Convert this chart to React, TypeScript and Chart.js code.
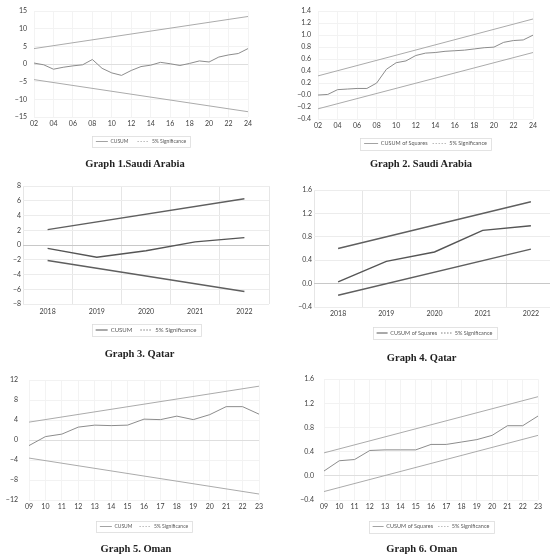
import { useEffect, useRef } from "react";
import { Chart, registerables } from "chart.js";

Chart.register(...registerables);

// ---- data ----
const saudiYears = ["02", "03", "04", "05", "06", "07", "08", "09", "10", "11", "12", "13", "14", "15", "16", "17", "18", "19", "20", "21", "22", "23", "24"];
const saudiCusum = [0.3, -0.2, -1.45, -0.9, -0.5, -0.2, 1.3, -1.2, -2.5, -3.2, -1.8, -0.7, -0.3, 0.5, 0.1, -0.4, 0.2, 0.9, 0.6, 2.0, 2.6, 3.0, 4.4];
const saudiCusumUpper = [4.4, 13.5];
const saudiCusumLower = [-4.4, -13.5];
const saudiSquares = [0.0, 0.01, 0.09, 0.1, 0.11, 0.11, 0.2, 0.43, 0.54, 0.57, 0.66, 0.7, 0.71, 0.73, 0.74, 0.75, 0.77, 0.79, 0.8, 0.88, 0.91, 0.92, 1.0];
const saudiSquaresUpper = [0.32, 1.27];
const saudiSquaresLower = [-0.23, 0.71];

const qatarYears = ["2018", "2019", "2020", "2021", "2022"];
const qatarCusum = [-0.44, -1.64, -0.76, 0.44, 1.02];
const qatarCusumUpper = [2.1, 6.3];
const qatarCusumLower = [-2.1, -6.3];
const qatarSquares = [0.03, 0.38, 0.54, 0.91, 0.99];
const qatarSquaresUpper = [0.6, 1.4];
const qatarSquaresLower = [-0.2, 0.59];

const omanYears = ["09", "10", "11", "12", "13", "14", "15", "16", "17", "18", "19", "20", "21", "22", "23"];
const omanCusum = [-1.1, 0.7, 1.2, 2.6, 3.0, 2.9, 3.0, 4.2, 4.1, 4.8, 4.1, 5.1, 6.7, 6.7, 5.2];
const omanCusumUpper = [3.6, 10.8];
const omanCusumLower = [-3.6, -10.8];
const omanSquares = [0.08, 0.25, 0.27, 0.42, 0.43, 0.43, 0.43, 0.52, 0.52, 0.56, 0.6, 0.67, 0.83, 0.83, 0.99];
const omanSquaresUpper = [0.38, 1.31];
const omanSquaresLower = [-0.26, 0.67];

type Spec = {
  left: number; top: number; width: number; height: number; clip?: number;
  labels: string[]; series: number[]; upper: number[]; lower: number[]; name: string;
  yMin: number; yMax: number; yStep: number; decimals: number;
  everyOther: boolean; offset: boolean; dark: boolean;
  chartLeft: number; chartRight: number; chartTop: number; chartBottom: number;
  yLabelRight: number; xLabelY: number; legendY: number;
  legendFont: number; legendGap: number; sampleW: number;
  caption: string; captionX: number; captionY: number;
};

const legendFrame = {
  id: "legendFrame",
  afterDraw(chart: any) {
    const lg = chart.legend;
    if (!lg || !lg.legendHitBoxes || !lg.legendHitBoxes.length) return;
    const hb = lg.legendHitBoxes;
    const l = Math.min(...hb.map((h: any) => h.left));
    const r = Math.max(...hb.map((h: any) => h.left + h.width));
    const t = Math.min(...hb.map((h: any) => h.top));
    const b = Math.max(...hb.map((h: any) => h.top + h.height));
    const ctx = chart.ctx;
    ctx.save();
    ctx.strokeStyle = "#dcdcdc";
    ctx.lineWidth = 0.8;
    ctx.strokeRect(Math.round(l - 4) + 0.5, Math.round(t - 3) + 0.5, Math.round(r - l + 8), Math.round(b - t + 6));
    ctx.restore();
  },
};

const fmt = (v: number, d: number) => (v < 0 ? "\u2212" + Math.abs(v).toFixed(d) : v.toFixed(d));

const Panel: React.FC<{ s: Spec }> = ({ s }) => {
  const ref = useRef<HTMLCanvasElement | null>(null);

  useEffect(() => {
    if (!ref.current) return;
    const f = s.legendFont;
    const p = s.legendGap;
    const legendTop = s.legendY - p - f / 2;
    const xH = legendTop - s.chartBottom;
    const bottomPad = s.height - (legendTop + f + p + 10);
    const last = s.labels.length - 1;
    const lineCol = s.dark ? "#555555" : "#8c8c8c";
    const bandCol = s.dark ? "#5f5f5f" : "#ababab";
    const lw = s.dark ? 1.4 : 1;
    const gridX = s.dark ? "#e6e6e6" : "#f3f3f3";
    const gridY = s.dark ? "#ececec" : "#f2f2f2";
    const zero = s.dark ? "#c8c8c8" : "#dedede";

    const chart = new Chart(ref.current, {
      type: "line",
      data: {
        labels: s.labels,
        datasets: [
          { label: s.name, data: s.series, borderColor: lineCol, backgroundColor: lineCol, borderWidth: lw },
          { label: "5% Significance", data: [{ x: s.labels[0], y: s.upper[0] }, { x: s.labels[last], y: s.upper[1] }] as any, borderColor: bandCol, backgroundColor: bandCol, borderWidth: lw },
          { label: "lower", data: [{ x: s.labels[0], y: s.lower[0] }, { x: s.labels[last], y: s.lower[1] }] as any, borderColor: bandCol, backgroundColor: bandCol, borderWidth: lw },
        ],
      },
      options: {
        animation: false,
        responsive: false,
        elements: { point: { radius: 0 }, line: { tension: 0 } },
        layout: { padding: { left: 0, right: s.width - s.chartRight, top: s.chartTop, bottom: bottomPad } },
        scales: {
          x: {
            offset: s.offset,
            border: { display: false },
            grid: { offset: s.offset, drawTicks: false, color: gridX },
            ticks: {
              autoSkip: false,
              maxRotation: 0,
              padding: s.xLabelY - s.chartBottom - 4.2,
              font: { family: "Lato", size: 7 },
              color: "#404040",
              callback: (_v: any, i: number) => (s.everyOther && i % 2 === 1 ? null : s.labels[i]),
            },
            afterFit: (sc: any) => { sc.height = xH; },
          },
          y: {
            min: s.yMin,
            max: s.yMax,
            border: { display: false },
            grid: { drawTicks: false, color: (c: any) => (c.tick && c.tick.value === 0 ? zero : gridY) },
            ticks: {
              stepSize: s.yStep,
              padding: s.chartLeft - s.yLabelRight,
              font: { family: "Lato", size: 7 },
              color: "#404040",
              callback: (v: any) => fmt(Number(v), s.decimals),
            },
            afterFit: (sc: any) => { sc.width = s.chartLeft; },
          },
        },
        plugins: {
          tooltip: { enabled: false },
          legend: {
            position: "bottom",
            fullSize: false,
            labels: {
              usePointStyle: true,
              pointStyle: "line",
              pointStyleWidth: s.sampleW,
              padding: p,
              color: "#595959",
              font: { family: "Lato", size: f },
              generateLabels: (c: any) =>
                Chart.defaults.plugins.legend.labels
                  .generateLabels(c)
                  .filter((it: any) => it.datasetIndex !== 2)
                  .map((it: any) => (it.datasetIndex === 1 ? { ...it, lineDash: [1.5, 1.5], lineWidth: 0.8 } : { ...it, lineWidth: s.dark ? 1 : 0.8 })),
            },
          },
        },
      },
      plugins: [legendFrame],
    });
    return () => chart.destroy();
  }, []);

  return (
    <div style={{ position: "absolute", left: s.left, top: s.top, width: s.clip ?? s.width, height: s.height, overflow: "hidden" }}>
      <canvas ref={ref} width={s.width} height={s.height} style={{ width: s.width, height: s.height }} />
      <div style={{ position: "absolute", left: s.captionX, top: s.captionY, transform: "translate(-50%, -50%)", whiteSpace: "nowrap", fontFamily: "'Liberation Serif', serif", fontWeight: "bold", fontSize: 10.5, color: "#222" }}>
        {s.caption}
      </div>
    </div>
  );
};

const specs: Spec[] = [
  {
    left: 0, top: 0, width: 275, height: 180,
    labels: saudiYears, series: saudiCusum, upper: saudiCusumUpper, lower: saudiCusumLower, name: "CUSUM",
    yMin: -15, yMax: 15, yStep: 5, decimals: 0, everyOther: true, offset: false, dark: false,
    chartLeft: 34, chartRight: 248, chartTop: 7, chartBottom: 117, yLabelRight: 27, xLabelY: 124, legendY: 141.5,
    legendFont: 5, legendGap: 9, sampleW: 12,
    caption: "Graph 1.Saudi Arabia", captionX: 135, captionY: 163,
  },
  {
    left: 275, top: 0, width: 275, height: 180,
    labels: saudiYears, series: saudiSquares, upper: saudiSquaresUpper, lower: saudiSquaresLower, name: "CUSUM of Squares",
    yMin: -0.4, yMax: 1.4, yStep: 0.2, decimals: 1, everyOther: true, offset: false, dark: false,
    chartLeft: 43, chartRight: 258, chartTop: 6, chartBottom: 119, yLabelRight: 36, xLabelY: 126, legendY: 143.5,
    legendFont: 5.5, legendGap: 5, sampleW: 14,
    caption: "Graph 2. Saudi Arabia", captionX: 146, captionY: 163,
  },
  {
    left: 0, top: 180, width: 275, height: 185,
    labels: qatarYears, series: qatarCusum, upper: qatarCusumUpper, lower: qatarCusumLower, name: "CUSUM",
    yMin: -8, yMax: 8, yStep: 2, decimals: 0, everyOther: false, offset: true, dark: true,
    chartLeft: 23, chartRight: 269, chartTop: 5, chartBottom: 124, yLabelRight: 21, xLabelY: 131.7, legendY: 150,
    legendFont: 6, legendGap: 8, sampleW: 12,
    caption: "Graph 3. Qatar", captionX: 139.5, captionY: 173,
  },
  {
    left: 275, top: 180, width: 282, height: 185, clip: 275,
    labels: qatarYears, series: qatarSquares, upper: qatarSquaresUpper, lower: qatarSquaresLower, name: "CUSUM of Squares",
    yMin: -0.4, yMax: 1.6, yStep: 0.4, decimals: 1, everyOther: false, offset: true, dark: true,
    chartLeft: 39, chartRight: 280, chartTop: 10, chartBottom: 127, yLabelRight: 37, xLabelY: 134, legendY: 153,
    legendFont: 5.5, legendGap: 4, sampleW: 11,
    caption: "Graph 4. Qatar", captionX: 146.7, captionY: 177,
  },
  {
    left: 0, top: 365, width: 275, height: 190,
    labels: omanYears, series: omanCusum, upper: omanCusumUpper, lower: omanCusumLower, name: "CUSUM",
    yMin: -12, yMax: 12, yStep: 4, decimals: 0, everyOther: false, offset: false, dark: false,
    chartLeft: 29, chartRight: 259, chartTop: 14, chartBottom: 135, yLabelRight: 18, xLabelY: 141.7, legendY: 161.5,
    legendFont: 5, legendGap: 7, sampleW: 12,
    caption: "Graph 5. Oman", captionX: 136, captionY: 182.7,
  },
  {
    left: 275, top: 365, width: 275, height: 190,
    labels: omanYears, series: omanSquares, upper: omanSquaresUpper, lower: omanSquaresLower, name: "CUSUM of Squares",
    yMin: -0.4, yMax: 1.6, yStep: 0.4, decimals: 1, everyOther: false, offset: false, dark: false,
    chartLeft: 49, chartRight: 263, chartTop: 13.3, chartBottom: 135, yLabelRight: 39, xLabelY: 142, legendY: 161.5,
    legendFont: 5.5, legendGap: 5, sampleW: 11,
    caption: "Graph 6. Oman", captionX: 146.8, captionY: 182.7,
  },
];

export default function App() {
  return (
    <div style={{ position: "absolute", left: 0, top: 0, width: 550, height: 555, background: "#fff", overflow: "hidden" }}>
      {specs.map((s, i) => (
        <Panel key={i} s={s} />
      ))}
    </div>
  );
}
